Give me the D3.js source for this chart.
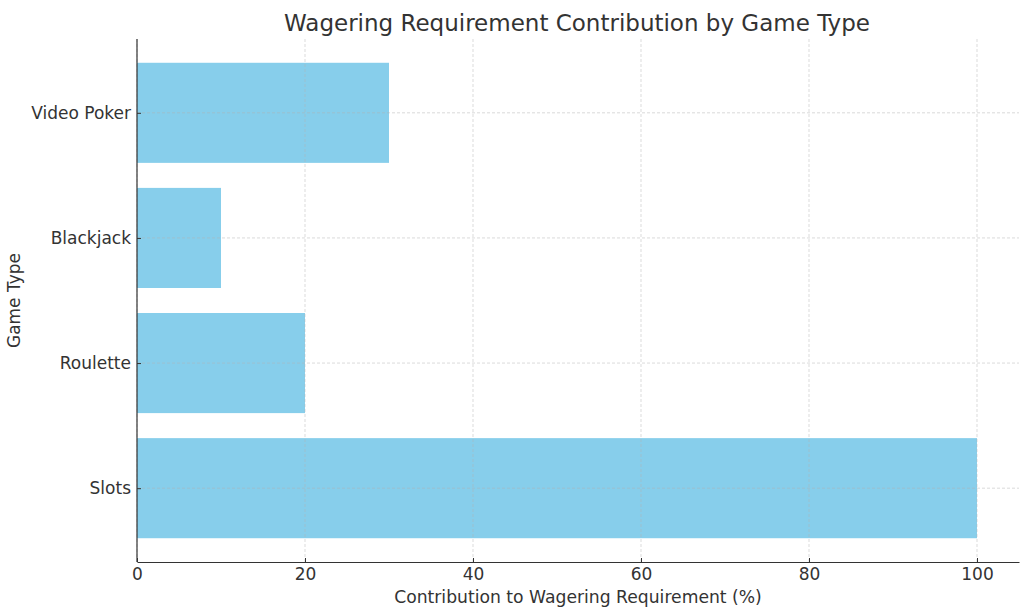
<!DOCTYPE html>
<html>
<head>
<meta charset="utf-8">
<script src="https://cdn.jsdelivr.net/npm/d3@7"></script>
<style>
  body { margin: 0; background: #fff; }
  svg text { font-family: "DejaVu Sans", sans-serif; }
</style>
</head>
<body>
<div id="chart"></div>
<script>
const gameTypes = ["Slots", "Roulette", "Blackjack", "Video Poker"];
const contributions = [100, 20, 10, 30];
const xTicks = [0, 20, 40, 60, 80, 100];

const width = 1024, height = 611;
const margin = {top: 39, right: 5, bottom: 49, left: 137};
const innerW = width - margin.left - margin.right;
const innerH = height - margin.top - margin.bottom;

const svg = d3.select("#chart").append("svg")
    .attr("width", width)
    .attr("height", height);

const g = svg.append("g")
    .attr("transform", `translate(${margin.left},${margin.top})`);

// x: 0..105 like matplotlib's margin on the right
const x = d3.scaleLinear().domain([0, 105]).range([0, innerW]);
// y: positions 0..3 with -0.59..3.59 limits
const yPos = d3.scaleLinear().domain([-0.59, 3.59]).range([innerH, 0]);
const barH = yPos(0) - yPos(0.8);

// bars
g.selectAll("rect.bar")
    .data(gameTypes)
    .join("rect")
    .attr("class", "bar")
    .attr("x", x(0))
    .attr("y", (d, i) => yPos(i + 0.4))
    .attr("width", (d, i) => x(contributions[i]) - x(0))
    .attr("height", barH)
    .attr("fill", "#87ceeb");

// grid
const grid = g.append("g").attr("class", "grid");
grid.selectAll("line.vx")
    .data(xTicks)
    .join("line")
    .attr("x1", d => x(d)).attr("x2", d => x(d))
    .attr("y1", 0).attr("y2", innerH)
    .attr("stroke", "#b0b0b0")
    .attr("stroke-opacity", 0.6)
    .attr("stroke-width", 0.8)
    .attr("stroke-dasharray", "3,2");
grid.selectAll("line.hy")
    .data(gameTypes)
    .join("line")
    .attr("x1", 0).attr("x2", innerW)
    .attr("y1", (d, i) => yPos(i)).attr("y2", (d, i) => yPos(i))
    .attr("stroke", "#b0b0b0")
    .attr("stroke-opacity", 0.6)
    .attr("stroke-width", 0.8)
    .attr("stroke-dasharray", "3,2");

// x axis
const xAxis = g.append("g")
    .attr("transform", `translate(0,${innerH})`)
    .call(d3.axisBottom(x).tickValues(xTicks).tickSizeInner(-4).tickSizeOuter(0).tickPadding(6));
xAxis.attr("font-family", null);
xAxis.select(".domain").attr("stroke", "#333").attr("stroke-width", 1.2);
xAxis.selectAll(".tick line").attr("stroke", "#333");
xAxis.selectAll(".tick text")
    .attr("fill", "#333")
    .style("font-size", "17px");

// y axis
const yBand = d3.scaleOrdinal().domain(gameTypes).range(gameTypes.map((d, i) => yPos(i)));
const yAxis = g.append("g")
    .call(d3.axisLeft(yBand).tickSizeInner(-4).tickSizeOuter(0).tickPadding(6));
yAxis.attr("font-family", null);
yAxis.select(".domain").remove();
yAxis.append("line")
    .attr("x1", 0).attr("x2", 0).attr("y1", 0).attr("y2", innerH)
    .attr("stroke", "#333").attr("stroke-width", 1.2);
yAxis.selectAll(".tick line").attr("stroke", "#333");
yAxis.selectAll(".tick text")
    .attr("fill", "#333")
    .style("font-size", "17px");

// title and labels
svg.append("text")
    .attr("x", margin.left + innerW / 2 - 1)
    .attr("y", 31)
    .attr("text-anchor", "middle")
    .attr("fill", "#333")
    .style("font-size", "23px")
    .text("Wagering Requirement Contribution by Game Type");

svg.append("text")
    .attr("x", margin.left + x(52.5))
    .attr("y", 603)
    .attr("text-anchor", "middle")
    .attr("fill", "#333")
    .style("font-size", "17.2px")
    .text("Contribution to Wagering Requirement (%)");

svg.append("text")
    .attr("transform", `translate(20,${margin.top + innerH / 2}) rotate(-90)`)
    .attr("text-anchor", "middle")
    .attr("fill", "#333")
    .style("font-size", "17px")
    .text("Game Type");
</script>
</body>
</html>
